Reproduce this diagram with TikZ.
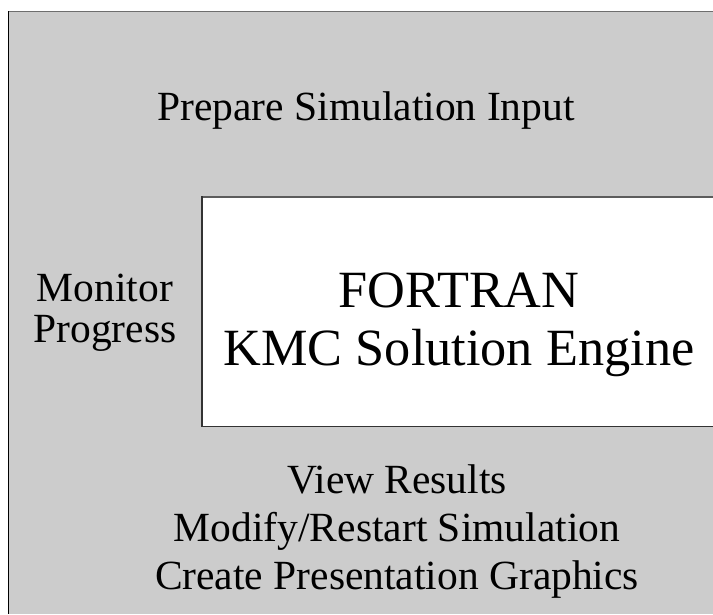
\documentclass[tikz,border=0pt]{standalone}
\usepackage{fontspec}
\setmainfont{Liberation Serif}
\definecolor{panelgray}{HTML}{CCCCCC}
\definecolor{edgegray}{HTML}{6E6E6E}
\definecolor{edgedark}{HTML}{333333}
\begin{document}
\begin{tikzpicture}[x=1pt,y=-1pt,
  lbl/.style={inner sep=0pt,anchor=base,text=black},
  small/.style={lbl,font=\fontsize{41.5}{41.5}\selectfont},
  big/.style={lbl,font=\fontsize{52.3}{52.3}\selectfont}]
\useasboundingbox (0,0) rectangle (713,614);
% outer gray panel
\fill[panelgray] (8,11) rectangle (713,614);
\draw[edgegray,line width=1.6pt] (8,11.5) -- (713,11.5);
\draw[black,line width=1.6pt] (8.5,11) -- (8.5,614);
% inner white engine box
\fill[white] (201,196) rectangle (713,427);
\draw[edgedark!80!white,line width=1.6pt] (201,196.8) -- (713,196.8);
\draw[edgedark,line width=1.6pt] (201.8,196) -- (201.8,427);
\draw[edgedark,line width=1.6pt] (201,426.5) -- (713,426.5);
% texts
\node[small] (prep) at (366,120) {Prepare Simulation Input};
\node[small] (mon1) at (105,301) {Monitor};
\node[small] (mon2) at (105,342) {Progress};
\node[big] (eng1) at (459,307) {FORTRAN};
\node[big] (eng2) at (459,365) {KMC Solution Engine};
\node[small] (res1) at (397,493) {View Results};
\node[small] (res2) at (397,541) {Modify/Restart Simulation};
\node[small] (res3) at (397,589) {Create Presentation Graphics};
\end{tikzpicture}
\end{document}
